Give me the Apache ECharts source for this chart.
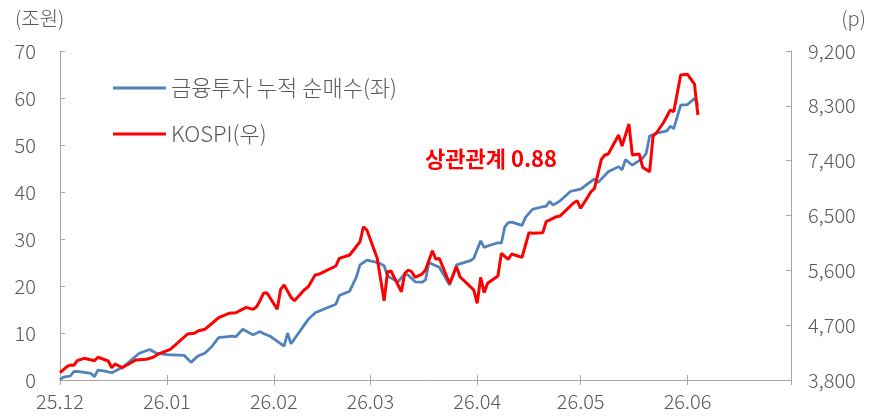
<!DOCTYPE html>
<html>
<head>
<meta charset="utf-8">
<script src="https://cdn.jsdelivr.net/npm/echarts@6/dist/echarts.min.js"></script>
<style>
  html, body { margin: 0; padding: 0; background: #fff; }
  #chart { width: 884px; height: 418px; }
</style>
</head>
<body>
<div id="chart"></div>
<script>
// 금융투자 누적 순매수 (조원)
const flowDates = [
  '2025-12-01','2025-12-02','2025-12-04','2025-12-05','2025-12-06','2025-12-10','2025-12-11','2025-12-12',
  '2025-12-14','2025-12-16','2025-12-18','2025-12-19','2025-12-24','2025-12-27','2025-12-29','2026-01-01',
  '2026-01-06','2026-01-08','2026-01-10','2026-01-12','2026-01-14','2026-01-16','2026-01-20','2026-01-21',
  '2026-01-23','2026-01-26','2026-01-28','2026-01-29','2026-01-31','2026-02-04','2026-02-05','2026-02-06',
  '2026-02-11','2026-02-13','2026-02-19','2026-02-20','2026-02-23','2026-02-25','2026-02-26','2026-02-28',
  '2026-03-02','2026-03-04','2026-03-05','2026-03-06','2026-03-09','2026-03-11','2026-03-12','2026-03-14',
  '2026-03-16','2026-03-17','2026-03-18','2026-03-20','2026-03-21','2026-03-24','2026-03-26','2026-03-30',
  '2026-03-31','2026-04-02','2026-04-03','2026-04-04','2026-04-07','2026-04-08','2026-04-09','2026-04-10',
  '2026-04-11','2026-04-14','2026-04-15','2026-04-17','2026-04-19','2026-04-21','2026-04-22','2026-04-23',
  '2026-04-25','2026-04-28','2026-04-29','2026-05-01','2026-05-05','2026-05-06','2026-05-09','2026-05-12',
  '2026-05-13','2026-05-14','2026-05-16','2026-05-19','2026-05-20','2026-05-21','2026-05-23','2026-05-26',
  '2026-05-27','2026-05-28','2026-05-30','2026-06-01','2026-06-03','2026-06-04'
];
const flowValues = [
  0.1, 0.6, 0.85, 1.8, 1.85, 1.4, 0.7, 2.1,
  1.9, 1.55, 2.3, 2.6, 5.7, 6.5, 5.7, 5.4,
  5.25, 3.75, 5.1, 5.7, 7.1, 9.0, 9.35, 9.2,
  10.8, 9.6, 10.3, 9.9, 9.3, 7.2, 10.0, 7.7,
  12.9, 14.3, 16.1, 18.0, 18.9, 22.0, 24.5, 25.5,
  25.2, 24.7, 24.3, 22.1, 20.9, 22.6, 22.3, 20.9,
  20.8, 21.3, 25.0, 24.3, 24.0, 20.2, 24.5, 25.4,
  25.9, 29.6, 28.2, 28.5, 29.2, 29.1, 32.6, 33.5,
  33.6, 32.9, 34.6, 36.3, 36.7, 37.0, 38.0, 37.2,
  38.1, 40.1, 40.3, 40.6, 42.8, 42.0, 44.3, 45.4,
  44.7, 46.9, 45.7, 47.2, 48.2, 51.9, 52.5, 53.0,
  54.0, 53.5, 58.5, 58.6, 59.9, 58.5
];

// KOSPI (p)
const kospiDates = [
  '2025-12-01','2025-12-03','2025-12-04','2025-12-05','2025-12-06','2025-12-08','2025-12-11','2025-12-12',
  '2025-12-15','2025-12-16','2025-12-17','2025-12-19','2025-12-23','2025-12-26','2025-12-28','2025-12-30',
  '2026-01-02','2026-01-07','2026-01-09','2026-01-10','2026-01-12','2026-01-16','2026-01-19','2026-01-21',
  '2026-01-24','2026-01-26','2026-01-27','2026-01-28','2026-01-29','2026-01-30','2026-02-02','2026-02-03',
  '2026-02-04','2026-02-06','2026-02-07','2026-02-10','2026-02-11','2026-02-13','2026-02-14','2026-02-19',
  '2026-02-20','2026-02-23','2026-02-26','2026-02-27','2026-02-28','2026-03-03','2026-03-05','2026-03-06',
  '2026-03-07','2026-03-10','2026-03-11','2026-03-12','2026-03-13','2026-03-14','2026-03-16','2026-03-17',
  '2026-03-19','2026-03-20','2026-03-21','2026-03-24','2026-03-26','2026-03-27','2026-03-29','2026-03-31',
  '2026-04-01','2026-04-02','2026-04-03','2026-04-04','2026-04-07','2026-04-08','2026-04-10','2026-04-11',
  '2026-04-14','2026-04-16','2026-04-17','2026-04-20','2026-04-21','2026-04-24','2026-04-25','2026-04-29',
  '2026-04-30','2026-05-01','2026-05-04','2026-05-05','2026-05-07','2026-05-08','2026-05-09','2026-05-12',
  '2026-05-13','2026-05-15','2026-05-16','2026-05-18','2026-05-19','2026-05-21','2026-05-22','2026-05-23',
  '2026-05-25','2026-05-27','2026-05-28','2026-05-30','2026-06-01','2026-06-03','2026-06-04'
];
const kospiValues = [
  3920, 4018, 4046, 4041, 4117, 4156, 4117, 4173,
  4112, 4002, 4063, 4002, 4128, 4139, 4173, 4238,
  4304, 4555, 4566, 4604, 4632, 4822, 4894, 4904,
  4993, 4960, 5003, 5101, 5223, 5233, 4960, 5288,
  5359, 5157, 5101, 5288, 5331, 5523, 5535, 5671,
  5797, 5851, 6069, 6316, 6262, 5797, 5101, 5577,
  5589, 5249, 5551, 5605, 5577, 5485, 5539, 5605,
  5922, 5781, 5797, 5384, 5659, 5495, 5387, 5277,
  5059, 5485, 5233, 5387, 5507, 5879, 5781, 5868,
  5813, 6217, 6207, 6217, 6398, 6480, 6491, 6709,
  6742, 6618, 6890, 6946, 7422, 7492, 7509, 7820,
  7640, 8001, 7492, 7509, 7290, 7218, 7804, 7858,
  8022, 8231, 8203, 8805, 8817, 8657, 8149
];

const seriesNames = ['금융투자 누적 순매수(좌)', 'KOSPI(우)'];
const leftTicks = { min: 0, max: 70, step: 10 };
const rightTicks = { min: 3800, max: 9200, step: 900 };
const xRange = ['2025-12-01', '2026-07-01'];
const corrLabel = '상관관계 0.88';

const FONT = '"Noto Sans CJK KR", "Noto Sans", sans-serif';
const GRAY = '#595959';
const AXIS = '#a6a6a6';
const BLUE = '#4f81bd';
const RED = '#ff0000';

const zip = (xs, ys) => xs.map((x, i) => [x, ys[i]]);
const monthLabel = v => {
  const d = new Date(v);
  const m = d.getMonth() + 1;
  if (d.getFullYear() === 2026 && m === 7) return '';
  return String(d.getFullYear()).slice(2) + '.' + String(m).padStart(2, '0');
};
const DAY = 86400000;

const chart = echarts.init(document.getElementById('chart'), null, { renderer: 'canvas' });
chart.setOption({
  animation: false,
  textStyle: { fontFamily: FONT },
  grid: { left: 60, right: 93, top: 51, bottom: 38 },
  legend: {
    orient: 'vertical',
    left: 113,
    top: 77,
    padding: 0,
    itemGap: 24,
    itemWidth: 53,
    itemHeight: 3,
    icon: 'rect',
    textStyle: { fontFamily: FONT, fontSize: 22, color: GRAY, lineHeight: 22, fontWeight: 300 },
    data: seriesNames
  },
  xAxis: [
    {
      type: 'time',
      min: xRange[0],
      max: xRange[1],
      minInterval: 28 * DAY,
      maxInterval: 31 * DAY,
      axisLine: { lineStyle: { color: AXIS, width: 1 } },
      axisTick: { show: true, inside: false, length: 5, lineStyle: { color: AXIS } },
      axisLabel: {
        formatter: monthLabel,
        fontSize: 20, color: GRAY, margin: 11, fontFamily: FONT, fontWeight: 300,
        showMinLabel: true, showMaxLabel: false, hideOverlap: false
      },
      splitLine: { show: false }
    },
    {
      type: 'time',
      position: 'bottom',
      min: xRange[0],
      max: xRange[1],
      minInterval: 28 * DAY,
      maxInterval: 31 * DAY,
      axisLine: { show: false },
      axisTick: { show: true, inside: true, length: 5, lineStyle: { color: AXIS } },
      axisLabel: { show: false },
      splitLine: { show: false }
    }
  ],
  yAxis: [
    {
      type: 'value',
      min: leftTicks.min, max: leftTicks.max, interval: leftTicks.step,
      axisLine: { show: true, lineStyle: { color: AXIS } },
      axisTick: { show: true, inside: true, length: 5, lineStyle: { color: AXIS } },
      axisLabel: { fontSize: 20, color: GRAY, margin: 24, fontFamily: FONT, fontWeight: 300 },
      splitLine: { show: false }
    },
    {
      type: 'value',
      position: 'right',
      min: rightTicks.min, max: rightTicks.max, interval: rightTicks.step,
      axisLine: { show: true, lineStyle: { color: AXIS } },
      axisTick: { show: true, inside: true, length: 5, lineStyle: { color: AXIS } },
      axisLabel: {
        fontSize: 20, color: GRAY, margin: 17, fontFamily: FONT, fontWeight: 300,
        formatter: v => v.toLocaleString('en-US')
      },
      splitLine: { show: false }
    }
  ],
  graphic: [
    { type: 'text', left: 15, top: 8, style: { text: '(조원)', fontSize: 20, fontWeight: 300, fill: GRAY, fontFamily: FONT } },
    { type: 'text', right: 18, top: 8, style: { text: '(p)', fontSize: 20, fontWeight: 300, fill: GRAY, fontFamily: FONT } },
    { type: 'text', left: 425, top: 148, style: { text: corrLabel, fontSize: 22, fontWeight: 'bold', fill: RED, fontFamily: FONT } }
  ],
  series: [
    {
      name: seriesNames[0],
      type: 'line',
      xAxisIndex: 0,
      yAxisIndex: 0,
      data: zip(flowDates, flowValues),
      showSymbol: false,
      symbol: 'none',
      lineStyle: { color: BLUE, width: 2.75 },
      itemStyle: { color: BLUE }
    },
    {
      name: seriesNames[1],
      type: 'line',
      xAxisIndex: 0,
      yAxisIndex: 1,
      data: zip(kospiDates, kospiValues),
      showSymbol: false,
      symbol: 'none',
      lineStyle: { color: RED, width: 3 },
      itemStyle: { color: RED }
    }
  ]
});
</script>
</body>
</html>
